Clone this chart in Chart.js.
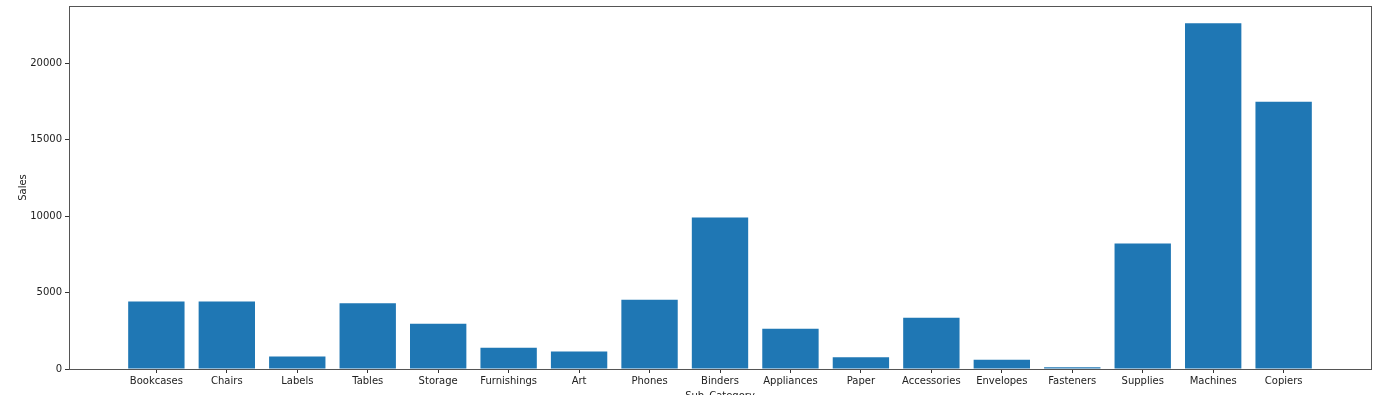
<!DOCTYPE html>
<html>
<head>
<meta charset="utf-8">
<script src="https://cdn.jsdelivr.net/npm/chart.js@4"></script>
<style>
html,body{margin:0;padding:0;background:#fff;overflow:hidden;}
#wrap{width:1377px;height:402px;position:relative;}
</style>
</head>
<body>
<div id="wrap"><canvas id="c" width="1377" height="402"></canvas></div>
<script>
const categories = ["Bookcases","Chairs","Labels","Tables","Storage","Furnishings","Art","Phones","Binders","Appliances","Paper","Accessories","Envelopes","Fasteners","Supplies","Machines","Copiers"];
const sales = [4420, 4420, 820, 4310, 2960, 1390, 1150, 4535, 9910, 2635, 775, 3355, 605, 120, 8205, 22620, 17485];
const yTicks = [0, 5000, 10000, 15000, 20000];

const n = categories.length;
const xMargin = 0.05 * (n - 1 + 0.8);
const xMin = -0.4 - xMargin;
const xMax = n - 1 + 0.4 + xMargin;
const yMax = Math.max(...sales) * 1.05;

const frame = {
  id: 'frame',
  afterDraw(chart) {
    const a = chart.chartArea, ctx = chart.ctx;
    ctx.save();
    ctx.strokeStyle = '#555';
    ctx.lineWidth = 1;
    ctx.strokeRect(Math.round(a.left) + 0.5, Math.round(a.top) + 0.5, Math.round(a.right - a.left), Math.round(a.bottom - a.top));
    ctx.restore();
  }
};

new Chart(document.getElementById('c'), {
  type: 'bar',
  data: {
    datasets: [{
      data: categories.map((c, i) => ({ x: i, y: sales[i] })),
      backgroundColor: '#1f77b4',
      borderWidth: 0,
      barPercentage: 0.8,
      categoryPercentage: 1.0
    }]
  },
  options: {
    responsive: false,
    animation: false,
    events: [],
    layout: { padding: { left: 0, right: 6, top: 6, bottom: 0 } },
    plugins: { legend: { display: false }, tooltip: { enabled: false } },
    scales: {
      x: {
        type: 'linear',
        min: xMin,
        max: xMax,
        offset: false,
        afterBuildTicks(axis) { axis.ticks = categories.map((c, i) => ({ value: i })); },
        afterFit(scale) { scale.height = 402 - 369; scale.paddingLeft = 0; scale.paddingRight = 0; },
        ticks: {
          autoSkip: false,
          maxRotation: 0,
          padding: 2,
          color: '#222',
          font: { family: 'DejaVu Sans', size: 10 },
          callback: (v) => categories[v] !== undefined ? categories[v] : ''
        },
        grid: { display: true, offset: false, drawOnChartArea: false, drawTicks: true, tickLength: 4, color: '#333' },
        border: { display: false },
        title: { display: true, text: 'Sub_Category', color: '#222', font: { family: 'DejaVu Sans', size: 10 }, padding: { top: 0, bottom: 0 } }
      },
      y: {
        min: 0,
        max: yMax,
        afterBuildTicks(axis) { axis.ticks = yTicks.map(v => ({ value: v })); },
        afterFit(scale) { scale.width = 69; scale.paddingTop = 0; scale.paddingBottom = 0; },
        ticks: {
          padding: 3,
          color: '#222',
          font: { family: 'DejaVu Sans', size: 10 },
          callback: (v) => String(v)
        },
        grid: { display: true, offset: false, drawOnChartArea: false, drawTicks: true, tickLength: 4, color: '#333' },
        border: { display: false },
        title: { display: true, text: 'Sales', color: '#222', font: { family: 'DejaVu Sans', size: 10 }, padding: { top: 17, bottom: 0 } }
      }
    }
  },
  plugins: [frame]
});
</script>
</body>
</html>
